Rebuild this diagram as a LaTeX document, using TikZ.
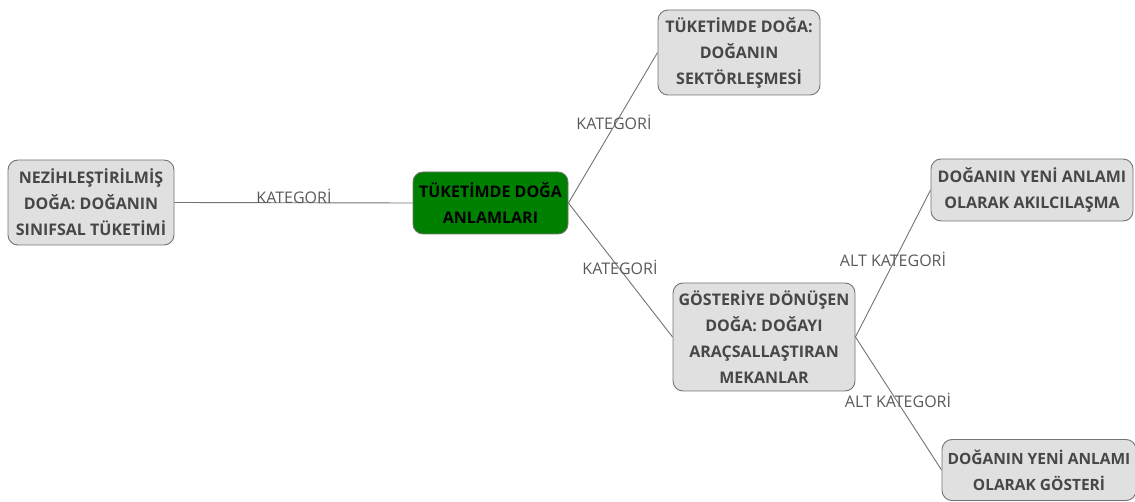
\documentclass[tikz,border=0pt]{standalone}
\usepackage{fontspec}
\setmainfont{Open Sans}
\begin{document}
\begin{tikzpicture}[x=1pt,y=-1pt,
  box/.style={draw=black!55, line width=0.9pt, fill=black!12, rounded corners=10pt, align=center,
    font=\bfseries\fontsize{16}{26}\selectfont, text=black!72, inner sep=0pt},
  root/.style={box, fill=green!50!black, text=black},
  link/.style={draw=black!55, line width=0.9pt},
  lbl/.style={font=\fontsize{16}{18}\selectfont, text=black!65, inner sep=0pt}]
\useasboundingbox (0,0) rectangle (1135,502);
\node[root, minimum width=155pt, minimum height=62pt] (c) at (490.5,203) {TÜKETİMDE DOĞA\\ANLAMLARI};
\node[box, minimum width=166pt, minimum height=85pt] (l) at (91,202.5) {NEZİHLEŞTİRİLMİŞ\\DOĞA: DOĞANIN\\SINIFSAL TÜKETİMİ};
\node[box, minimum width=162pt, minimum height=85pt] (t) at (739,52.5) {TÜKETİMDE DOĞA:\\DOĞANIN\\SEKTÖRLEŞMESİ};
\node[box, minimum width=182pt, minimum height=108pt] (m) at (764,337) {GÖSTERİYE DÖNÜŞEN\\DOĞA: DOĞAYI\\ARAÇSALLAŞTIRAN\\MEKANLAR};
\node[box, minimum width=202pt, minimum height=62pt] (r1) at (1032,190) {DOĞANIN YENİ ANLAMI\\OLARAK AKILCILAŞMA};
\node[box, minimum width=194pt, minimum height=61pt, font=\bfseries\fontsize{15.5}{26}\selectfont] (r2) at (1039,470) {DOĞANIN YENİ ANLAMI\\OLARAK GÖSTERİ};
\draw[link] (l.east) -- (c.west);
\draw[link] (c.east) -- (t.west);
\draw[link] (c.east) -- (m.west);
\draw[link] (m.east) -- (r1.west);
\draw[link] (m.east) -- (r2.west);
\node[lbl] (k1) at (294,196) {KATEGORİ};
\node[lbl] (k2) at (614,122) {KATEGORİ};
\node[lbl] (k3) at (620,267) {KATEGORİ};
\node[lbl] (k4) at (893,259) {ALT KATEGORİ};
\node[lbl] (k5) at (898,400) {ALT KATEGORİ};
\end{tikzpicture}
\end{document}
